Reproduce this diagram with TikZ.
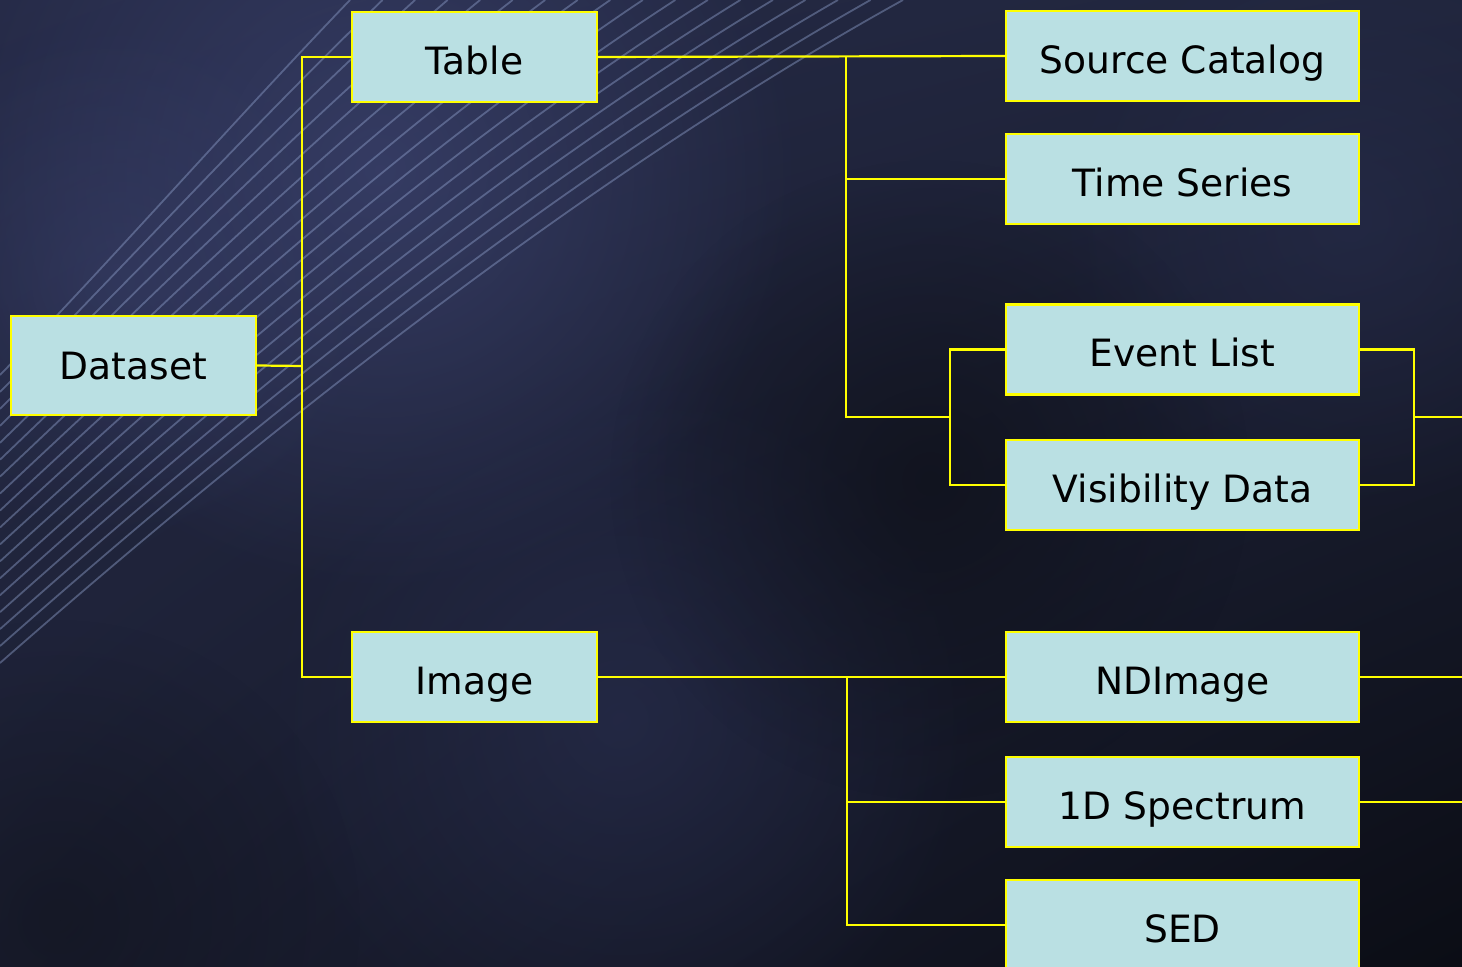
\documentclass[tikz,border=0pt]{standalone}
\usepackage{fontspec}
\setmainfont{DejaVu Sans}
\usetikzlibrary{fadings,shadings}
\definecolor{boxfill}{HTML}{BAE0E3}
\definecolor{lineyel}{HTML}{FFFF00}
\definecolor{bgUL}{HTML}{262B48}
\definecolor{bgUR}{HTML}{20253C}
\definecolor{bgLL}{HTML}{1C2034}
\definecolor{bgLR}{HTML}{0B0D15}
\definecolor{glowA}{HTML}{3A416C}
\definecolor{glowB}{HTML}{2A3052}
\definecolor{darkC}{HTML}{0E1018}
\definecolor{stripe}{HTML}{8C9DC8}
\tikzfading[name=softglow, inner color=transparent!0, outer color=transparent!100]
\tikzset{
  boxnode/.style={draw=lineyel, line width=1.2pt, fill=boxfill, inner sep=0pt,
    minimum height=45pt, font=\fontsize{18.8}{22}\selectfont, text=black,
    text height=17.5pt, text depth=0pt},
  smallbox/.style={boxnode, minimum width=122.5pt},
  widebox/.style={boxnode, minimum width=176.5pt},
  conn/.style={draw=lineyel, line width=1.1pt},
  stripeline/.style={draw=stripe, line width=0.9pt, opacity=0.45},
  glow/.style={path fading=softglow}
}
\begin{document}
\begin{tikzpicture}[x=0.5pt,y=-0.5pt]
\useasboundingbox (0,0) rectangle (1462,967);
% background
\begin{scope}
\clip (0,0) rectangle (1462,967);
\shade[upper left=bgUL, upper right=bgUR, lower left=bgLL, lower right=bgLR] (0,0) rectangle (1462,967);
\fill[glowA, glow, fill opacity=0.8] (380,170) circle (420);
\fill[glowA, glow, fill opacity=0.5] (120,280) circle (260);
\fill[glowB, glow, fill opacity=0.6] (620,720) circle (360);
\fill[glowB, glow, fill opacity=0.5] (1350,220) circle (300);
\fill[darkC, glow, fill opacity=0.7] (930,480) circle (320);
\fill[darkC, glow, fill opacity=0.5] (60,920) circle (300);
\foreach \i in {0,...,17}{
  \pgfmathsetmacro{\t}{\i/17}
  \pgfmathsetmacro{\ay}{375+\t*(663-375)}
  \pgfmathsetmacro{\bx}{110+\t*(220-110)}
  \pgfmathsetmacro{\by}{262+\t*(470-262)}
  \pgfmathsetmacro{\cx}{230+\t*(560-230)}
  \pgfmathsetmacro{\cy}{125+\t*(190-125)}
  \pgfmathsetmacro{\dx}{350+\t*(903-350)}
  \draw[stripeline] (0,\ay) .. controls (\bx,\by) and (\cx,\cy) .. (\dx,0);
}
\end{scope}
% nodes
\node[smallbox, minimum height=49.5pt, text height=14.5pt] (dataset) at (133.5,365.5) {Dataset};
\node[smallbox] (table) at (474.5,57) {Table};
\node[smallbox] (image) at (474.5,677) {Image};
\node[widebox] (srccat) at (1182.5,56) {Source Catalog};
\node[widebox] (timeser) at (1182.5,179) {Time Series};
\node[widebox] (event) at (1182.5,349.5) {Event List};
\node[widebox] (vis) at (1182.5,485) {Visibility Data};
\node[widebox] (ndimage) at (1182.5,677) {NDImage};
\node[widebox] (spec) at (1182.5,802) {1D Spectrum};
\node[widebox] (sed) at (1182.5,925) {SED};
% junction coordinates
\coordinate (jd) at (302,366);
\coordinate (jt) at (846,417);
\coordinate (jel) at (950,417);
\coordinate (jr) at (1414,417);
\coordinate (ji) at (847,925);
\coordinate (edgeA) at (1462,417);
\coordinate (edgeB) at (1462,677);
\coordinate (edgeC) at (1462,802);
% connectors
\draw[conn] (dataset.east) -- (jd);
\draw[conn] (table.west) -| (jd) |- (image.west);
\draw[conn] (table.east) -- (srccat.west);
\draw[conn] (jt |- table.east) -- (jt) -- (jel);
\draw[conn] (jt |- timeser.west) -- (timeser.west);
\draw[conn] (event.west) -| (jel) |- (vis.west);
\draw[conn] (event.east) -| (jr) |- (vis.east);
\draw[conn] (jr) -- (edgeA);
\draw[conn] (image.east) -- (ndimage.west);
\draw[conn] (ji |- image.east) -- (ji) -- (sed.west);
\draw[conn] (ji |- spec.west) -- (spec.west);
\draw[conn] (ndimage.east) -- (edgeB);
\draw[conn] (spec.east) -- (edgeC);
\end{tikzpicture}
\end{document}
